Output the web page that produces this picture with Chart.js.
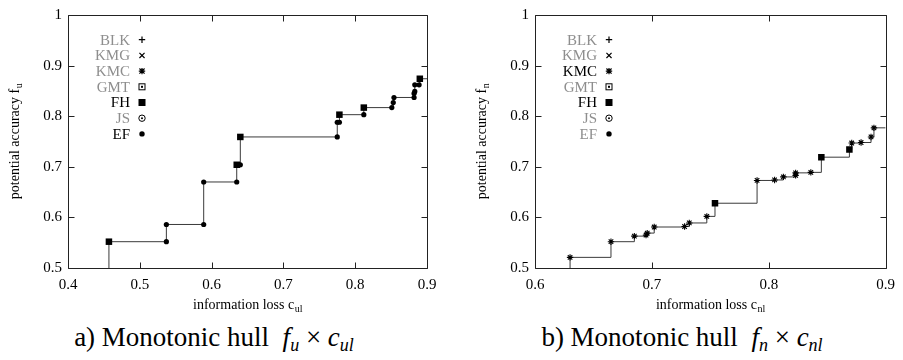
<!DOCTYPE html>
<html>
<head>
<meta charset="utf-8">
<script src="https://cdn.jsdelivr.net/npm/chart.js@4.4.1/dist/chart.umd.min.js"></script>
<style>
  html, body { margin: 0; padding: 0; background: #fff; }
  body { width: 903px; height: 360px; position: relative; overflow: hidden; font-family: 'Liberation Serif', 'Times New Roman', 'DejaVu Serif', serif; }
  .box { position: absolute; top: 0; }
  .cap { position: absolute; top: 322px; font-size: 27px; white-space: nowrap; transform: translateX(-50%); color: #000; font-family: 'Liberation Serif', 'Times New Roman', 'DejaVu Serif', serif; }
  .cap sub { font-size: 18px; vertical-align: -5px; }
  .cap .m { font-style: italic; }
</style>
</head>
<body>
<div class="box" style="left:0"><canvas id="chartA" width="450" height="320"></canvas></div>
<div class="box" style="left:450px"><canvas id="chartB" width="453" height="320"></canvas></div>
<div class="cap" style="left:214px">a) Monotonic hull&nbsp; <span class="m">f</span><sub class="m">u</sub> × <span class="m">c</span><sub class="m">ul</sub></div>
<div class="cap" style="left:682px">b) Monotonic hull&nbsp; <span class="m">f</span><sub class="m">n</sub> × <span class="m">c</span><sub class="m">nl</sub></div>
<script>
// legend entries, same in both panels
const methods = ['BLK', 'KMG', 'KMC', 'GMT', 'FH', 'JS', 'EF'];
const symbols = ['plus', 'cross', 'star', 'boxdot', 'box', 'circdot', 'dot'];

const yTicks = [0.5, 0.6, 0.7, 0.8, 0.9, 1];
const xTicksA = [0.4, 0.5, 0.6, 0.7, 0.8, 0.9];
const xTicksB = [0.6, 0.7, 0.8, 0.9];

// a) f_u x c_ul
const aFhX = [0.457, 0.635, 0.640, 0.778, 0.812, 0.890];
const aFhY = [0.552, 0.704, 0.759, 0.803, 0.817, 0.874];
const aEfX = [0.537, 0.537, 0.589, 0.589, 0.635, 0.640, 0.775, 0.775, 0.778, 0.812, 0.851, 0.853, 0.854, 0.882, 0.882, 0.883, 0.883, 0.889];
const aEfY = [0.552, 0.586, 0.586, 0.670, 0.670, 0.704, 0.759, 0.788, 0.788, 0.803, 0.817, 0.827, 0.837, 0.837, 0.845, 0.849, 0.862, 0.862];

// b) f_n x c_nl
const bKmcX = [0.630, 0.665, 0.685, 0.695, 0.696, 0.702, 0.728, 0.732, 0.747, 0.790, 0.805, 0.8125, 0.823, 0.823, 0.836, 0.871, 0.879, 0.8875, 0.890];
const bKmcY = [0.521, 0.552, 0.563, 0.565, 0.569, 0.581, 0.582, 0.589, 0.602, 0.673, 0.674, 0.680, 0.683, 0.688, 0.689, 0.747, 0.748, 0.759, 0.777];
const bFhX = [0.754, 0.845, 0.869];
const bFhY = [0.628, 0.719, 0.734];

const FONT = "'Liberation Serif', 'Times New Roman', 'DejaVu Serif', serif";
const GRAY = '#8e8e8e';

function pts(xs, ys) { return xs.map((x, i) => ({ x: x, y: ys[i] })); }

function drawSym(ctx, sym, x, y) {
    ctx.save();
    ctx.strokeStyle = '#000';
    ctx.fillStyle = '#000';
    ctx.lineWidth = 1.2;
    const r = 3.2;
    ctx.beginPath();
    if (sym === 'plus' || sym === 'star') {
        ctx.moveTo(x - r, y); ctx.lineTo(x + r, y);
        ctx.moveTo(x, y - r); ctx.lineTo(x, y + r);
    }
    if (sym === 'cross' || sym === 'star') {
        const d = r * 0.8;
        ctx.moveTo(x - d, y - d); ctx.lineTo(x + d, y + d);
        ctx.moveTo(x - d, y + d); ctx.lineTo(x + d, y - d);
    }
    ctx.stroke();
    if (sym === 'boxdot') {
        ctx.lineWidth = 1;
        ctx.strokeRect(x - 3, y - 3, 6, 6);
        ctx.fillRect(x - 1, y - 1, 2, 2);
    } else if (sym === 'box') {
        ctx.fillRect(x - 3.5, y - 3.5, 7, 7);
    } else if (sym === 'circdot') {
        ctx.lineWidth = 1;
        ctx.beginPath(); ctx.arc(x, y, 3.2, 0, Math.PI * 2); ctx.stroke();
        ctx.beginPath(); ctx.arc(x, y, 1, 0, Math.PI * 2); ctx.fill();
    } else if (sym === 'dot') {
        ctx.beginPath(); ctx.arc(x, y, 2.7, 0, Math.PI * 2); ctx.fill();
    }
    ctx.restore();
}

function subText(ctx, main, sub, cx, cy) {
    ctx.font = '14px ' + FONT;
    const w1 = ctx.measureText(main).width;
    ctx.font = '10px ' + FONT;
    const w2 = ctx.measureText(sub).width;
    const x0 = cx - (w1 + w2) / 2;
    ctx.fillStyle = '#000';
    ctx.textBaseline = 'alphabetic';
    ctx.textAlign = 'left';
    ctx.font = '14px ' + FONT;
    ctx.fillText(main, x0, cy + 4);
    ctx.font = '10px ' + FONT;
    ctx.fillText(sub, x0 + w1 + 0.5, cy + 7);
}

// frame with inward ticks, in-plot legend, axis titles with subscripts
const decor = {
    id: 'decor',
    afterDatasetsDraw(chart, args, opts) {
        const ctx = chart.ctx;
        const a = chart.chartArea;
        const xs = chart.scales.x, ys = chart.scales.y;
        const L = Math.round(a.left) + 0.5, R = Math.round(a.right) + 0.5;
        const T = Math.round(a.top) + 0.5, B = Math.round(a.bottom) + 0.5;
        ctx.save();
        ctx.strokeStyle = '#222';
        ctx.lineWidth = 1;
        ctx.beginPath();
        ctx.rect(L, T, R - L, B - T);
        const tl = 6;
        xs.ticks.forEach(t => {
            const px = Math.round(xs.getPixelForValue(t.value)) + 0.5;
            ctx.moveTo(px, B); ctx.lineTo(px, B - tl);
            ctx.moveTo(px, T); ctx.lineTo(px, T + tl);
        });
        ys.ticks.forEach(t => {
            const py = Math.round(ys.getPixelForValue(t.value)) + 0.5;
            ctx.moveTo(L, py); ctx.lineTo(L + tl, py);
            ctx.moveTo(R, py); ctx.lineTo(R - tl, py);
        });
        ctx.stroke();

        // legend
        let k = 0;
        chart.data.datasets.forEach(ds => {
            if (!ds.sym) return;
            const y = a.top + 24.7 + k * 15.7;
            ctx.font = '15px ' + FONT;
            ctx.textAlign = 'right';
            ctx.textBaseline = 'middle';
            ctx.fillStyle = ds.data.length ? '#000' : GRAY;
            ctx.fillText(ds.label, a.left + 62, y + 1);
            drawSym(ctx, ds.sym, a.left + 74, y);
            k++;
        });

        // axis titles
        subText(ctx, opts.xTitle[0], opts.xTitle[1], (a.left + a.right) / 2, a.bottom + 37);
        ctx.save();
        ctx.translate(a.left - 53, (a.top + a.bottom) / 2);
        ctx.rotate(-Math.PI / 2);
        subText(ctx, opts.yTitle[0], opts.yTitle[1], 0, 0);
        ctx.restore();
        ctx.restore();
    }
};

function makeChart(id, xMin, xMax, xTicks, series, xTitle, yTitle, yAxisW, padRight) {
    const yMin = yTicks[0], yMax = yTicks[yTicks.length - 1];
    const datasets = [];
    let hull = [];
    methods.forEach((m, i) => {
        const s = series[m];
        const data = s ? pts(s[0], s[1]) : [];
        hull = hull.concat(data);
        datasets.push({
            label: m, sym: symbols[i], data: data, showLine: false,
            pointStyle: m === 'KMC' ? 'star' : (m === 'FH' ? 'rect' : 'circle'),
            pointRadius: m === 'KMC' ? 3.2 : (m === 'FH' ? 4.6 : 2.6),
            pointBorderWidth: m === 'KMC' ? 1.1 : 0,
            pointBackgroundColor: '#000', pointBorderColor: '#000'
        });
    });
    hull.sort((p, q) => p.x - q.x || p.y - q.y);
    hull.unshift({ x: hull[0].x, y: yMin });
    hull.push({ x: xMax, y: hull[hull.length - 1].y });
    datasets.push({
        label: 'hull', data: hull, showLine: true, stepped: true, borderColor: '#3a3a3a',
        borderWidth: 1, pointRadius: 0, fill: false
    });

    return new Chart(document.getElementById(id), {
        type: 'scatter',
        data: { datasets: datasets },
        options: {
            responsive: false,
            animation: false,
            layout: { padding: { left: 0, top: 10, right: padRight, bottom: 0 } },
            plugins: {
                legend: { display: false },
                tooltip: { enabled: false },
                decor: { xTitle: xTitle, yTitle: yTitle }
            },
            scales: {
                x: {
                    type: 'linear', min: xMin, max: xMax,
                    afterBuildTicks: s => { s.ticks = xTicks.map(v => ({ value: v })); },
                    afterFit: s => { s.height = 52; },
                    grid: { display: false, drawTicks: false },
                    border: { display: false },
                    ticks: { color: '#000', font: { family: FONT, size: 15 }, padding: 8, maxRotation: 0,
                             callback: v => String(Number(v.toFixed(1))) }
                },
                y: {
                    type: 'linear', min: yMin, max: yMax,
                    afterBuildTicks: s => { s.ticks = yTicks.map(v => ({ value: v })); },
                    afterFit: s => { s.width = yAxisW; },
                    grid: { display: false, drawTicks: false },
                    border: { display: false },
                    ticks: { color: '#000', font: { family: FONT, size: 15 }, padding: 6,
                             callback: v => String(Number(v.toFixed(1))) }
                }
            }
        },
        plugins: [decor]
    });
}

makeChart('chartA', 0.4, 0.9, xTicksA, { FH: [aFhX, aFhY], EF: [aEfX, aEfY] },
    ['information loss c', 'ul'], ['potential accuracy f', 'u'], 68, 23);
makeChart('chartB', 0.6, 0.9, xTicksB, { KMC: [bKmcX, bKmcY], FH: [bFhX, bFhY] },
    ['information loss c', 'nl'], ['potential accuracy f', 'n'], 85, 10);
</script>
</body>
</html>
